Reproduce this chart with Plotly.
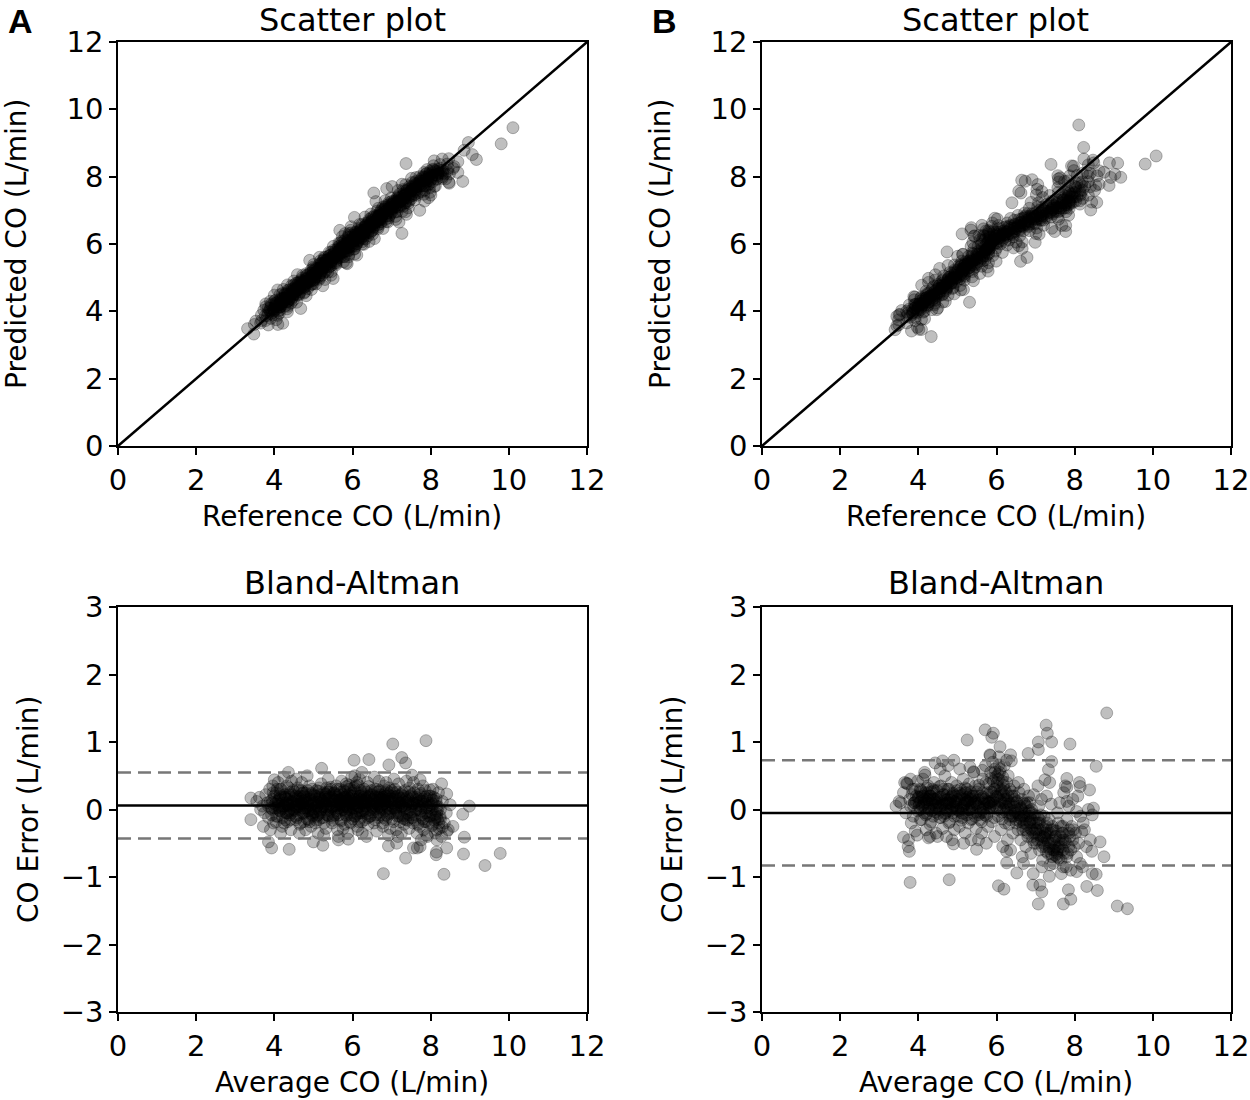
import plotly.graph_objects as go

# Bland-Altman points as (average CO, CO error) in L/min.
# The scatter plots are the same samples: ref = avg - err/2, pred = avg + err/2.
a_core = [
    (3.55, 0.12), (3.62, 0.18), (3.70, 0.05), (3.75, -0.05), (3.78, 0.22), (3.82, 0.10), (3.85, -0.12), (3.88, 0.30),
    (3.92, 0.02), (3.95, 0.15), (3.98, -0.20), (3.96, 0.35), (3.90, -0.30), (3.72, -0.25), (3.65, 0.00),
    (4.02, 0.08), (4.05, 0.25), (4.08, -0.10), (4.10, 0.40), (4.12, 0.15), (4.15, -0.02), (4.18, 0.30), (4.20, -0.25),
    (4.22, 0.05), (4.25, 0.18), (4.28, -0.15), (4.30, 0.10), (4.32, 0.35), (4.35, -0.05), (4.38, 0.22), (4.40, 0.00),
    (4.42, -0.30), (4.45, 0.12), (4.48, 0.28), (4.06, 0.02), (4.14, 0.20), (4.26, 0.05), (4.34, -0.18), (4.44, 0.42),
    (4.16, -0.35), (4.24, 0.48),
    (4.52, 0.05), (4.55, 0.20), (4.58, -0.12), (4.60, 0.32), (4.62, 0.08), (4.65, -0.22), (4.68, 0.15), (4.70, 0.40),
    (4.72, -0.05), (4.75, 0.25), (4.78, 0.02), (4.80, -0.30), (4.82, 0.18), (4.85, 0.10), (4.88, -0.15), (4.90, 0.35),
    (4.92, 0.00), (4.95, 0.22), (4.98, -0.08), (4.56, 0.45), (4.64, -0.35), (4.74, 0.12), (4.84, 0.50), (4.94, -0.25),
    (4.66, 0.05), (4.86, -0.02), (4.76, -0.18),
    (5.02, 0.10), (5.05, -0.20), (5.08, 0.28), (5.10, 0.05), (5.12, -0.35), (5.15, 0.18), (5.18, -0.05), (5.20, 0.38),
    (5.22, 0.12), (5.25, -0.12), (5.28, 0.25), (5.30, 0.00), (5.32, -0.28), (5.35, 0.15), (5.38, 0.45), (5.40, -0.10),
    (5.42, 0.08), (5.45, 0.30), (5.48, -0.20), (5.06, 0.02), (5.16, 0.22), (5.26, -0.38), (5.36, 0.05), (5.46, 0.18),
    (5.14, -0.15), (5.34, 0.32), (5.44, -0.02),
    (5.52, 0.15), (5.55, -0.08), (5.58, 0.35), (5.60, 0.05), (5.62, -0.30), (5.65, 0.22), (5.68, 0.10), (5.70, -0.15),
    (5.72, 0.42), (5.75, 0.00), (5.78, 0.28), (5.80, -0.22), (5.82, 0.18), (5.85, 0.05), (5.88, -0.35), (5.90, 0.30),
    (5.92, 0.12), (5.95, -0.05), (5.98, 0.48), (5.54, 0.25), (5.64, -0.40), (5.74, 0.15), (5.84, 0.38), (5.94, -0.18),
    (5.66, 0.02), (5.86, 0.20), (5.76, -0.28), (5.96, 0.08),
    (6.02, 0.20), (6.05, -0.10), (6.08, 0.35), (6.10, 0.02), (6.12, -0.25), (6.15, 0.15), (6.18, 0.45), (6.20, -0.05),
    (6.22, 0.25), (6.25, -0.35), (6.28, 0.10), (6.30, 0.30), (6.32, -0.15), (6.35, 0.05), (6.38, 0.40), (6.40, -0.22),
    (6.42, 0.18), (6.45, 0.00), (6.48, 0.28), (6.06, 0.50), (6.16, -0.18), (6.26, 0.12), (6.36, -0.40), (6.46, 0.22),
    (6.04, 0.08), (6.24, 0.55), (6.34, 0.15), (6.14, -0.30),
    (6.52, 0.10), (6.55, -0.20), (6.58, 0.30), (6.60, 0.05), (6.62, -0.32), (6.65, 0.18), (6.68, 0.42), (6.70, -0.08),
    (6.72, 0.22), (6.75, 0.00), (6.78, -0.25), (6.80, 0.35), (6.82, 0.12), (6.85, -0.15), (6.88, 0.28), (6.90, 0.05),
    (6.92, -0.38), (6.95, 0.20), (6.98, -0.05), (6.56, 0.48), (6.66, -0.12), (6.76, 0.15), (6.86, 0.40), (6.96, -0.28),
    (6.64, 0.02), (6.84, 0.25),
    (7.02, 0.15), (7.05, -0.18), (7.08, 0.30), (7.10, 0.02), (7.12, -0.30), (7.15, 0.20), (7.18, 0.38), (7.20, -0.10),
    (7.22, 0.10), (7.25, -0.35), (7.28, 0.25), (7.30, 0.00), (7.32, -0.22), (7.35, 0.15), (7.38, 0.42), (7.40, -0.05),
    (7.42, 0.08), (7.45, -0.28), (7.48, 0.20), (7.06, 0.45), (7.16, -0.40), (7.26, 0.05), (7.36, -0.15), (7.46, 0.32),
    (7.52, 0.05), (7.55, -0.20), (7.58, 0.25), (7.60, -0.08), (7.62, 0.15), (7.65, -0.35), (7.68, 0.30), (7.70, 0.00),
    (7.72, -0.25), (7.75, 0.12), (7.78, -0.12), (7.80, 0.35), (7.82, -0.30), (7.85, 0.08), (7.88, -0.18), (7.90, 0.20),
    (7.92, -0.40), (7.95, 0.02), (7.98, -0.10), (7.56, 0.40), (7.66, 0.10), (7.76, -0.45), (7.86, 0.28),
    (8.02, 0.10), (8.05, -0.22), (8.08, 0.18), (8.10, -0.08), (8.12, -0.35), (8.15, 0.05), (8.18, -0.15), (8.20, 0.25),
    (8.22, -0.28), (8.25, 0.00), (8.28, -0.40), (8.30, 0.12), (8.35, -0.20), (8.40, -0.05), (8.45, -0.30), (8.06, 0.30),
    (8.16, -0.45),
    (3.85, 0.05), (3.95, 0.10), (4.05, 0.12), (4.12, 0.00), (4.20, 0.10), (4.28, 0.18), (4.36, 0.05), (4.44, -0.05),
    (4.50, 0.15), (4.58, 0.08), (4.66, 0.20), (4.72, 0.02), (4.80, 0.10), (4.88, 0.15), (4.95, 0.05), (5.00, -0.05),
    (5.05, 0.15), (5.12, 0.10), (5.20, 0.00), (5.28, 0.08), (5.35, -0.08), (5.42, 0.20), (5.50, 0.05), (5.56, 0.12),
    (5.62, 0.18), (5.70, 0.08), (5.78, 0.00), (5.84, 0.15), (5.90, 0.22), (5.96, 0.10), (6.02, 0.02), (6.08, 0.15),
    (6.14, 0.25), (6.20, 0.10), (6.26, -0.05), (6.32, 0.20), (6.40, 0.08), (6.46, -0.10), (6.52, 0.15), (6.60, 0.20),
    (6.66, 0.05), (6.72, 0.12), (6.78, 0.18), (6.84, -0.02), (6.90, 0.12), (6.96, 0.25), (7.02, 0.05), (7.10, 0.15),
    (7.18, -0.05), (7.24, 0.10), (7.32, 0.05), (7.40, 0.18), (7.46, -0.08), (7.54, 0.08), (7.62, 0.00), (7.70, 0.12),
    (7.78, 0.05), (7.86, -0.05), (7.94, 0.10), (8.04, 0.00), (8.14, 0.12), (8.24, -0.10),
    (4.10, 0.05), (4.30, -0.05), (4.50, 0.00), (4.70, 0.10), (4.90, -0.02), (5.10, 0.05), (5.30, 0.15), (5.50, -0.10),
    (5.70, 0.25), (5.90, 0.00), (6.10, 0.10), (6.30, 0.00), (6.50, 0.05), (6.70, 0.28), (6.90, -0.10), (7.10, 0.00),
    (7.30, 0.20), (7.50, -0.12), (7.70, 0.22), (7.90, -0.05), (4.15, 0.22), (4.40, 0.25), (4.62, -0.08), (4.85, 0.28),
    (5.08, -0.10), (5.32, 0.22), (5.58, -0.02), (5.82, 0.08), (6.05, 0.28), (6.28, 0.18), (6.55, 0.00), (6.80, 0.08),
    (7.05, 0.25), (7.28, -0.12), (7.55, 0.18), (7.80, 0.15), (8.00, 0.20), (6.00, 0.12), (5.95, 0.30), (6.12, 0.05),
    (6.18, 0.20), (5.85, -0.10), (6.22, -0.12), (5.75, 0.12),
]
a_dense = [
    (3.90, 0.12), (3.93, -0.08), (3.97, 0.25), (4.01, 0.02), (4.04, -0.18), (4.07, 0.30), (4.11, 0.08), (4.14, -0.02),
    (4.17, 0.18), (4.21, -0.12), (4.24, 0.05), (4.27, 0.22), (4.31, -0.05), (4.34, 0.15), (4.37, 0.32), (4.41, -0.15),
    (4.44, 0.10), (4.47, 0.00), (4.51, 0.26), (4.54, -0.10), (4.57, 0.14), (4.61, 0.04), (4.64, 0.28), (4.67, -0.20),
    (4.71, 0.09), (4.74, 0.19), (4.77, -0.04), (4.81, 0.24), (4.84, -0.14), (4.87, 0.06), (4.91, 0.16), (4.94, -0.06),
    (4.97, 0.30), (5.01, 0.01), (5.04, 0.20), (5.07, -0.16), (5.11, 0.11), (5.14, 0.27), (5.17, -0.03), (5.21, 0.14),
    (5.24, 0.04), (5.27, -0.20), (5.31, 0.23), (5.34, 0.08), (5.37, -0.09), (5.41, 0.18), (5.44, 0.33), (5.47, 0.02),
    (5.51, -0.13), (5.54, 0.12), (5.57, 0.22), (5.61, -0.05), (5.64, 0.07), (5.67, 0.30), (5.71, -0.17), (5.74, 0.16),
    (5.77, 0.04), (5.81, 0.26), (5.84, -0.08), (5.87, 0.13), (5.91, 0.36), (5.94, 0.00), (5.97, 0.20), (6.01, -0.14),
    (6.04, 0.32), (6.07, 0.09), (6.11, 0.40), (6.14, -0.06), (6.17, 0.17), (6.21, 0.28), (6.24, -0.18), (6.27, 0.06),
    (6.31, 0.22), (6.34, -0.03), (6.37, 0.12), (6.41, 0.34), (6.44, -0.10), (6.47, 0.15), (6.51, 0.03), (6.54, 0.25),
    (6.57, -0.15), (6.61, 0.10), (6.64, 0.30), (6.67, -0.04), (6.71, 0.18), (6.74, 0.06), (6.77, -0.20), (6.81, 0.22),
    (6.84, 0.10), (6.87, -0.08), (6.91, 0.15), (6.94, 0.32), (6.97, 0.01), (7.01, -0.14), (7.04, 0.20), (7.07, 0.08),
    (7.11, -0.05), (7.14, 0.26), (7.17, 0.12), (7.21, -0.18), (7.24, 0.04), (7.27, 0.17), (7.31, -0.09), (7.34, 0.28),
    (7.37, 0.06), (7.41, -0.16), (7.44, 0.14), (7.47, 0.00), (7.51, 0.22), (7.54, -0.12), (7.57, 0.09), (7.61, -0.02),
    (7.64, 0.18), (7.67, -0.22), (7.71, 0.05), (7.74, 0.24), (7.77, -0.08), (7.81, 0.12), (7.84, -0.18), (7.87, 0.02),
    (7.91, 0.15), (7.94, -0.10), (7.97, 0.20), (8.01, -0.04), (8.04, -0.24), (8.07, 0.08), (8.11, -0.12), (8.14, 0.16),
    (8.17, -0.02), (8.21, -0.20),
    (3.95, 0.00), (4.00, 0.20), (4.05, -0.10), (4.10, 0.12), (4.15, 0.30), (4.20, 0.02), (4.25, -0.20), (4.30, 0.16),
    (4.35, 0.06), (4.40, -0.08), (4.45, 0.22), (4.50, 0.08), (4.55, -0.15), (4.60, 0.18), (4.65, 0.00), (4.70, 0.28),
    (4.75, -0.06), (4.80, 0.14), (4.85, 0.04), (4.90, -0.18), (4.95, 0.24), (5.00, 0.10), (5.05, -0.04), (5.10, 0.20),
    (5.15, 0.32), (5.20, -0.12), (5.25, 0.06), (5.30, 0.18), (5.35, -0.02), (5.40, 0.26), (5.45, 0.04), (5.50, -0.16),
    (5.55, 0.14), (5.60, 0.30), (5.65, -0.08), (5.70, 0.06), (5.75, 0.22), (5.80, -0.02), (5.85, 0.34), (5.90, 0.10),
    (5.95, -0.20), (6.00, 0.24), (6.05, 0.14), (6.10, -0.06), (6.15, 0.36), (6.20, 0.20), (6.25, -0.02), (6.30, 0.12),
    (6.35, 0.26), (6.40, -0.12), (6.45, 0.08), (6.50, 0.22), (6.55, 0.12), (6.60, -0.08), (6.65, 0.26), (6.70, 0.04),
    (6.75, 0.16), (6.80, -0.12), (6.85, 0.20), (6.90, 0.02), (6.95, -0.06), (7.00, 0.28), (7.05, 0.02), (7.10, 0.18),
    (7.15, -0.10), (7.20, 0.08), (7.25, 0.22), (7.30, -0.14), (7.35, 0.02), (7.40, 0.12), (7.45, 0.26), (7.50, -0.04),
    (7.55, 0.10), (7.60, -0.16), (7.65, 0.06), (7.70, 0.16), (7.75, -0.02), (7.80, -0.14), (7.85, 0.18), (7.90, 0.04),
    (7.95, -0.20), (8.00, 0.06), (8.05, 0.14), (8.10, -0.16), (8.15, -0.06), (8.20, 0.04), (8.25, -0.14), (8.30, -0.26),
    (4.32, 0.08), (4.42, 0.18), (4.52, -0.02), (4.62, 0.12), (4.72, 0.24), (4.82, 0.02), (4.92, 0.12), (5.02, 0.22),
    (5.12, -0.08), (5.22, 0.10), (5.32, 0.04), (5.42, 0.14), (5.52, 0.24), (5.62, 0.02), (5.72, 0.12), (5.82, -0.04),
    (5.92, 0.16), (6.02, 0.08), (6.12, -0.02), (6.22, 0.14), (6.32, 0.06), (6.42, 0.20), (6.52, -0.04), (6.62, 0.08),
    (6.72, 0.02), (6.82, 0.14), (6.92, 0.22), (7.02, 0.10), (7.12, 0.04), (7.22, 0.16), (4.37, -0.02), (4.57, 0.04),
    (4.77, 0.20), (4.97, -0.10), (5.17, 0.16), (5.37, 0.26), (5.57, 0.06), (5.77, 0.18), (5.97, -0.08), (6.17, 0.04),
    (6.37, -0.06), (6.57, 0.18), (6.77, 0.08), (6.97, 0.12), (7.17, 0.20), (7.37, 0.10), (5.87, 0.04), (6.07, -0.10),
    (6.27, 0.10), (5.67, 0.14),
]
a_outliers = [
    (7.03, 0.97), (7.88, 1.02), (7.26, 0.77), (7.36, 0.69), (6.04, 0.73), (6.42, 0.74), (6.93, 0.66), (5.21, 0.61),
    (4.36, 0.55), (4.00, 0.44), (3.40, 0.17), (3.40, -0.15), (3.85, -0.48), (3.93, -0.57), (4.38, -0.59), (5.24, -0.53),
    (5.00, -0.48), (5.64, -0.45), (5.89, -0.44), (6.79, -0.95), (7.36, -0.72), (6.92, -0.54), (7.13, -0.50), (7.56, -0.57),
    (7.73, -0.55), (8.14, -0.67), (8.34, -0.96), (8.84, -0.66), (9.39, -0.83), (9.78, -0.65), (8.99, 0.05), (8.82, -0.07),
    (8.86, -0.41), (8.41, -0.57), (8.41, -0.33), (8.50, 0.07), (8.41, 0.23), (8.28, 0.38), (7.98, 0.29), (7.73, 0.44),
    (7.52, 0.51), (8.15, -0.11), (8.57, -0.25), (8.15, -0.30), (7.90, -0.38), (7.66, -0.57), (8.15, -0.63),
]
b_core = [
    (3.55, 0.10), (3.62, 0.25), (3.68, -0.05), (3.72, 0.38), (3.78, 0.15), (3.82, -0.20), (3.85, 0.30), (3.88, 0.05),
    (3.92, -0.32), (3.95, 0.20), (3.98, 0.42), (3.75, -0.45), (3.65, 0.40), (3.90, 0.10),
    (4.02, 0.05), (4.05, 0.30), (4.08, -0.15), (4.10, 0.18), (4.12, 0.45), (4.15, -0.05), (4.18, 0.25), (4.20, -0.30),
    (4.22, 0.10), (4.25, 0.35), (4.28, 0.00), (4.30, -0.22), (4.32, 0.20), (4.35, 0.08), (4.38, -0.10), (4.40, 0.40),
    (4.42, 0.15), (4.45, -0.35), (4.48, 0.28), (4.06, 0.12), (4.16, 0.55), (4.26, -0.42), (4.36, 0.30), (4.46, 0.02),
    (4.14, 0.20), (4.34, -0.02), (4.24, 0.15),
    (4.52, 0.18), (4.55, -0.12), (4.58, 0.35), (4.60, 0.05), (4.62, -0.28), (4.65, 0.22), (4.68, 0.50), (4.70, 0.00),
    (4.72, -0.40), (4.75, 0.15), (4.78, 0.30), (4.80, -0.18), (4.82, 0.08), (4.85, 0.40), (4.88, -0.05), (4.90, 0.22),
    (4.92, -0.30), (4.95, 0.12), (4.98, 0.35), (4.56, 0.60), (4.66, -0.10), (4.76, 0.65), (4.86, -0.45), (4.96, 0.02),
    (4.64, 0.10), (4.84, 0.18), (4.74, -0.02),
    (5.02, 0.10), (5.05, -0.25), (5.08, 0.30), (5.10, 0.02), (5.12, -0.12), (5.15, 0.45), (5.18, 0.15), (5.20, -0.35),
    (5.22, 0.25), (5.25, 0.00), (5.28, -0.20), (5.30, 0.38), (5.32, 0.10), (5.35, -0.45), (5.38, 0.20), (5.40, -0.05),
    (5.42, 0.55), (5.45, 0.12), (5.48, -0.28), (5.06, 0.60), (5.16, -0.50), (5.26, 0.18), (5.36, 0.05), (5.46, 0.35),
    (5.14, 0.05), (5.34, -0.15), (5.24, 0.30),
    (5.52, 0.05), (5.55, 0.30), (5.58, -0.15), (5.60, 0.20), (5.62, -0.35), (5.65, 0.45), (5.68, 0.10), (5.70, -0.08),
    (5.72, 0.65), (5.75, 0.25), (5.78, -0.25), (5.80, 0.38), (5.82, 0.02), (5.85, 0.55), (5.88, -0.18), (5.90, 0.70),
    (5.92, 0.15), (5.95, -0.40), (5.98, 0.48), (5.54, -0.45), (5.64, 0.58), (5.74, -0.50), (5.84, 0.80), (5.94, 0.30),
    (5.66, 0.00), (5.86, 0.12), (5.76, 0.08), (5.96, 0.60),
    (6.02, 0.35), (6.05, -0.10), (6.08, 0.55), (6.10, 0.12), (6.12, -0.30), (6.15, 0.42), (6.18, 0.00), (6.20, 0.65),
    (6.22, -0.20), (6.25, 0.25), (6.28, -0.45), (6.30, 0.50), (6.32, 0.08), (6.35, -0.15), (6.38, 0.72), (6.40, 0.20),
    (6.42, -0.35), (6.45, 0.35), (6.48, -0.05), (6.06, 0.78), (6.16, -0.55), (6.26, 0.40), (6.36, -0.60), (6.46, 0.15),
    (6.04, 0.20), (6.24, 0.05), (6.14, 0.28), (6.34, 0.30),
    (6.52, 0.10), (6.55, -0.30), (6.58, 0.25), (6.60, -0.12), (6.62, -0.45), (6.65, 0.15), (6.68, -0.25), (6.70, 0.30),
    (6.72, -0.05), (6.75, -0.55), (6.78, 0.10), (6.80, -0.35), (6.82, 0.20), (6.85, -0.18), (6.88, -0.65), (6.90, 0.00),
    (6.92, -0.40), (6.95, 0.22), (6.98, -0.28), (6.56, 0.40), (6.66, -0.70), (6.76, 0.05), (6.86, -0.10), (6.96, -0.50),
    (6.64, 0.00), (6.84, -0.02),
    (7.02, -0.20), (7.05, -0.45), (7.08, 0.05), (7.10, -0.60), (7.12, -0.30), (7.15, 0.15), (7.18, -0.75), (7.20, -0.40),
    (7.22, -0.10), (7.25, -0.55), (7.28, 0.20), (7.30, -0.35), (7.32, -0.65), (7.35, -0.15), (7.38, -0.50), (7.40, 0.08),
    (7.42, -0.70), (7.45, -0.30), (7.48, -0.60), (7.06, 0.35), (7.16, -0.85), (7.26, -0.25), (7.36, 0.40), (7.46, -0.80),
    (7.52, -0.40), (7.55, -0.65), (7.58, -0.20), (7.60, -0.55), (7.62, 0.10), (7.65, -0.75), (7.68, -0.35), (7.70, -0.60),
    (7.72, 0.25), (7.75, -0.45), (7.78, -0.85), (7.80, -0.15), (7.82, -0.65), (7.85, 0.05), (7.88, -0.40), (7.90, -0.90),
    (7.92, -0.25), (7.95, 0.15), (7.98, -0.55), (7.56, -0.05), (7.66, -0.95), (7.76, 0.35), (7.86, -0.30),
    (8.02, -0.35), (8.05, -0.70), (8.08, 0.20), (8.10, -0.50), (8.15, -0.10), (8.20, -0.85), (8.25, -0.30), (8.30, -0.55),
    (8.35, 0.00), (8.40, -0.45), (8.45, -0.95), (8.12, 0.40), (8.22, -0.20),
    (3.90, 0.10), (4.00, 0.18), (4.10, 0.05), (4.20, 0.12), (4.30, 0.20), (4.40, 0.00), (4.50, 0.10), (4.60, 0.15),
    (4.70, -0.05), (4.80, 0.10), (4.90, 0.05), (5.00, 0.15), (5.10, -0.05), (5.20, 0.10), (5.30, 0.00), (5.40, 0.20),
    (5.50, 0.08), (5.60, -0.05), (5.70, 0.15), (5.80, 0.10), (5.90, 0.25), (6.00, 0.05), (6.10, 0.30), (6.20, 0.15),
    (6.30, 0.00), (6.40, -0.10), (6.50, -0.15), (6.60, 0.05), (6.70, -0.20), (6.80, -0.10), (6.90, -0.30), (7.00, -0.35),
    (7.10, -0.20), (7.20, -0.50), (7.30, -0.45), (7.40, -0.30), (7.50, -0.55), (7.60, -0.45), (7.70, -0.35),
    (4.05, 0.00), (4.25, 0.25), (4.45, 0.10), (4.65, 0.30), (4.85, 0.00), (5.05, 0.20), (5.25, 0.12), (5.45, -0.10),
    (5.65, 0.25), (5.85, 0.05), (6.05, 0.45), (6.25, 0.15), (6.45, 0.20), (6.65, -0.10), (6.85, 0.10), (7.05, -0.10),
    (7.25, -0.35), (7.45, -0.60), (7.65, -0.25), (7.85, -0.55),
    (4.15, 0.10), (4.35, 0.15), (4.55, 0.05), (4.75, 0.10), (4.95, 0.20), (5.15, 0.00), (5.35, 0.15), (5.55, 0.10),
    (5.75, -0.10), (5.95, 0.10), (6.15, 0.10), (6.35, -0.05), (6.55, 0.00), (6.75, -0.15), (6.95, -0.20), (7.15, -0.40),
    (7.35, -0.55), (7.55, -0.70), (5.00, 0.00), (5.20, 0.25),
]
b_dense = [
    (3.80, 0.05), (3.84, 0.22), (3.87, -0.10), (3.91, 0.30), (3.94, 0.12), (3.98, -0.02), (4.01, 0.18), (4.05, -0.15),
    (4.08, 0.26), (4.12, 0.06), (4.15, 0.15), (4.19, -0.08), (4.22, 0.32), (4.26, 0.02), (4.29, 0.20), (4.33, -0.18),
    (4.36, 0.10), (4.40, 0.28), (4.43, -0.04), (4.47, 0.16), (4.50, 0.05), (4.54, 0.34), (4.57, -0.12), (4.61, 0.12),
    (4.64, 0.22), (4.68, -0.06), (4.71, 0.08), (4.75, 0.30), (4.78, -0.20), (4.82, 0.14), (4.85, 0.02), (4.89, 0.24),
    (4.92, -0.10), (4.96, 0.10), (4.99, 0.28), (5.03, -0.02), (5.06, 0.16), (5.10, -0.16), (5.13, 0.22), (5.17, 0.06),
    (5.20, 0.32), (5.24, -0.08), (5.27, 0.12), (5.31, 0.00), (5.34, 0.26), (5.38, -0.14), (5.41, 0.08), (5.45, 0.20),
    (5.48, -0.04), (5.52, 0.14), (5.55, 0.36), (5.59, 0.02), (5.62, -0.18), (5.66, 0.18), (5.69, 0.08), (5.73, 0.40),
    (5.76, -0.06), (5.80, 0.22), (5.83, 0.04), (5.87, 0.46), (5.90, 0.12), (5.94, -0.12), (5.97, 0.30), (6.01, 0.18),
    (6.04, 0.52), (6.08, 0.02), (6.11, 0.24), (6.15, -0.14), (6.18, 0.36), (6.22, 0.10), (6.25, -0.04), (6.29, 0.20),
    (6.32, -0.22), (6.36, 0.08), (6.39, 0.26), (6.43, -0.10), (6.46, 0.04), (6.50, -0.20), (6.53, 0.12), (6.57, -0.08),
    (6.60, -0.18), (6.63, 0.02), (6.67, -0.30), (6.70, -0.10), (6.73, 0.08), (6.77, -0.22), (6.80, -0.40), (6.83, -0.05),
    (6.87, -0.28), (6.90, -0.15), (6.93, -0.45), (6.97, -0.08), (7.00, -0.30), (7.03, -0.50), (7.07, -0.20), (7.10, -0.38),
    (7.13, -0.08), (7.17, -0.55), (7.20, -0.28), (7.23, -0.42), (7.27, -0.62), (7.30, -0.20), (7.33, -0.48), (7.37, -0.35),
    (7.40, -0.65), (7.43, -0.25), (7.47, -0.50), (7.50, -0.68), (7.53, -0.32), (7.57, -0.58), (7.60, -0.72), (7.63, -0.40),
    (7.67, -0.55), (7.70, -0.25), (7.73, -0.65), (7.77, -0.48), (7.80, -0.70), (7.85, -0.35), (7.90, -0.60), (7.95, -0.45),
    (4.02, 0.10), (4.10, 0.20), (4.18, 0.02), (4.26, 0.14), (4.34, 0.26), (4.42, 0.06), (4.50, -0.06), (4.58, 0.18),
    (4.66, 0.08), (4.74, 0.22), (4.82, -0.02), (4.90, 0.12), (4.98, 0.04), (5.06, 0.24), (5.14, -0.06), (5.22, 0.14),
    (5.30, 0.20), (5.38, 0.02), (5.46, 0.10), (5.54, -0.08), (5.62, 0.16), (5.70, 0.02), (5.78, 0.12), (5.86, 0.26),
    (5.94, 0.06), (6.02, 0.00), (6.10, 0.14), (6.18, 0.22), (6.26, 0.04), (6.34, -0.10), (6.42, 0.10), (4.06, 0.28),
    (4.22, -0.06), (4.38, 0.16), (4.54, 0.00), (4.70, 0.14), (4.86, 0.20), (5.02, -0.10), (5.18, 0.08), (5.34, 0.16),
    (5.50, 0.26), (5.66, -0.04), (5.82, 0.10), (5.98, 0.20), (6.14, -0.04), (6.30, 0.12), (6.46, -0.02), (6.02, 0.40),
    (6.10, 0.60), (5.96, 0.55), (6.16, 0.48), (6.06, 0.66), (5.92, 0.42), (6.20, 0.30),
    (6.55, -0.05), (6.65, -0.15), (6.75, -0.30), (6.85, -0.20), (6.95, -0.35), (7.05, -0.28), (7.15, -0.45), (7.25, -0.38),
    (7.35, -0.58), (7.45, -0.45), (7.55, -0.62), (7.65, -0.50), (6.70, 0.10), (6.90, -0.05), (7.10, -0.15), (7.30, -0.30),
    (7.50, -0.40), (7.70, -0.45),
]
b_outliers = [
    (8.82, 1.43), (7.27, 1.25), (7.30, 1.13), (7.41, 1.00), (7.07, 1.00), (7.07, 0.89), (7.88, 0.97), (5.25, 1.03),
    (5.71, 1.18), (5.92, 1.13), (5.88, 1.07), (6.09, 0.93), (6.81, 0.83), (8.55, 0.64), (7.41, 0.71), (7.33, 0.59),
    (7.24, 0.44), (7.80, 0.46), (7.80, 0.33), (8.14, 0.34), (8.38, 0.29), (8.48, 0.02), (8.45, -0.08), (8.05, -0.03),
    (7.80, 0.12), (8.65, -0.48), (8.75, -0.70), (8.44, -0.62), (8.55, -0.96), (8.58, -1.20), (8.31, -1.14), (7.84, -1.19),
    (7.90, -1.33), (7.71, -1.40), (7.07, -1.40), (7.16, -1.22), (7.11, -1.12), (6.93, -1.12), (7.35, -0.99), (6.94, -0.95),
    (6.52, -0.94), (6.19, -1.18), (6.05, -1.13), (4.79, -1.04), (3.79, -1.08), (9.09, -1.43), (9.35, -1.47), (3.77, -0.62),
    (3.74, -0.55), (3.62, -0.41), (3.97, -0.38), (4.30, -0.40), (4.49, -0.40), (4.90, -0.51), (5.49, -0.59), (6.26, -0.62),
    (6.26, -0.79), (6.69, -0.80), (7.37, -0.82), (7.71, -0.85), (8.05, -0.92), (8.14, -0.80), (8.18, -0.33), (7.97, -0.30),
    (3.43, 0.05), (3.51, 0.12), (3.70, 0.39), (3.80, 0.45), (4.17, 0.51), (4.43, 0.69), (4.62, 0.72), (4.91, 0.73),
    (5.32, 0.63), (5.41, 0.56), (6.36, 0.81), (6.26, 0.73), (5.83, 0.81),
]

# mean difference and limits of agreement (dashed lines)
bias_a, loa_a = 0.06, (0.55, -0.43)
bias_b, loa_b = -0.05, (0.73, -0.83)
identity = [0, 12]

panels = {
    "A": (a_core + a_dense + a_outliers, bias_a, loa_a),
    "B": (b_core + b_dense + b_outliers, bias_b, loa_b),
}

W, H = 1250, 1100
FONT = "DejaVu Sans"
dot = dict(size=12, color="rgba(0,0,0,0.25)", line=dict(width=1, color="rgba(0,0,0,0.27)"))


def px(x):
    return x / W


def py(y):
    return 1 - y / H


fig = go.Figure()

# pixel boxes of the four plot areas: (left, right, top, bottom)
boxes = {
    ("A", "sc"): (118, 587, 42, 446),
    ("A", "ba"): (118, 587, 607, 1012),
    ("B", "sc"): (762, 1231, 42, 446),
    ("B", "ba"): (762, 1231, 607, 1012),
}

layout_axes = {}
k = 0
for name, (pts, bias, loa) in panels.items():
    avg = [p[0] for p in pts]
    err = [p[1] for p in pts]
    ref = [a - e / 2 for a, e in zip(avg, err)]
    pred = [a + e / 2 for a, e in zip(avg, err)]

    for kind in ("sc", "ba"):
        k += 1
        xa = "x" if k == 1 else f"x{k}"
        ya = "y" if k == 1 else f"y{k}"
        l, r, t, b = boxes[(name, kind)]
        axis_style = dict(showline=True, linecolor="black", linewidth=1.5, mirror=True,
                          ticks="outside", ticklen=7, tickwidth=1.5, tickcolor="black",
                          showgrid=False, zeroline=False, automargin=False,
                          tickfont=dict(family=FONT, size=29, color="black"))
        layout_axes[f"xaxis{'' if k == 1 else k}"] = dict(
            axis_style, domain=[px(l), px(r)], range=[0, 12], dtick=2, anchor=ya)
        if kind == "sc":
            layout_axes[f"yaxis{'' if k == 1 else k}"] = dict(
                axis_style, domain=[py(b), py(t)], range=[0, 12], dtick=2, anchor=xa)
            fig.add_trace(go.Scatter(x=ref, y=pred, mode="markers", marker=dot, xaxis=xa, yaxis=ya))
            fig.add_trace(go.Scatter(x=identity, y=identity, mode="lines",
                                     line=dict(color="black", width=2.5), xaxis=xa, yaxis=ya))
        else:
            layout_axes[f"yaxis{'' if k == 1 else k}"] = dict(
                axis_style, domain=[py(b), py(t)], range=[-3, 3], dtick=1, anchor=xa)
            fig.add_trace(go.Scatter(x=avg, y=err, mode="markers", marker=dot, xaxis=xa, yaxis=ya))
            for lim in loa:
                fig.add_trace(go.Scatter(x=identity, y=[lim, lim], mode="lines",
                                         line=dict(color="#777777", width=2.5, dash="13px,7px"),
                                         xaxis=xa, yaxis=ya))
            fig.add_trace(go.Scatter(x=identity, y=[bias, bias], mode="lines",
                                     line=dict(color="black", width=2.5), xaxis=xa, yaxis=ya))


def label(text, x, y, size=28, angle=0, bold=False, family=FONT):
    return dict(text=f"<b>{text}</b>" if bold else text, x=px(x), y=py(y),
                xref="paper", yref="paper", showarrow=False, textangle=angle,
                xanchor="center", yanchor="middle",
                font=dict(family=family, size=size, color="black"))


annotations = [
    label("A", 20, 21, size=34, bold=True, family="Liberation Sans"),
    label("B", 664, 21, size=34, bold=True, family="Liberation Sans"),
]
for cx, ylab_x in ((352, 17), (996, 661)):
    annotations += [
        label("Scatter plot", cx, 20, size=32),
        label("Reference CO (L/min)", cx, 516),
        label("Predicted CO (L/min)", ylab_x, 244, angle=-90),
        label("Bland-Altman", cx, 583, size=32),
        label("Average CO (L/min)", cx, 1082),
        label("CO Error (L/min)", ylab_x + 11, 810, angle=-90),
    ]

fig.update_layout(
    width=W, height=H,
    margin=dict(l=0, r=0, t=0, b=0),
    paper_bgcolor="white", plot_bgcolor="white",
    showlegend=False,
    annotations=annotations,
    **layout_axes,
)

# drop the browser's default body margin so the 1250x1100 figure fills the window
fig.write_html("out.html", config={"displayModeBar": False},
               post_script="document.body.style.margin='0';document.body.style.overflow='hidden';")
